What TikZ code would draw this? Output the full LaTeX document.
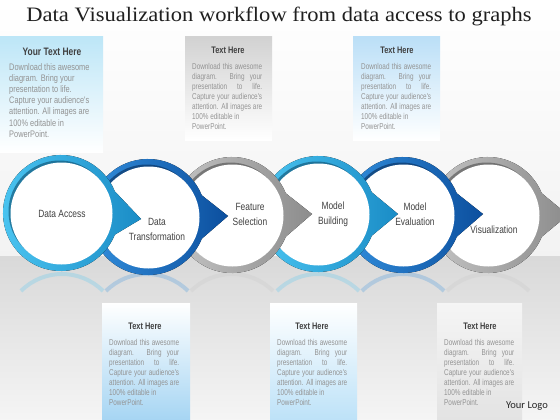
\documentclass[tikz,border=0pt]{standalone}
\usepackage{fontspec}
\setmainfont{Liberation Serif}
\newfontfamily\titlef[FakeStretch=1.1]{Liberation Serif}
\newfontfamily\condf[FakeStretch=0.78]{Liberation Sans}
\newfontfamily\condb[FakeStretch=0.75]{Liberation Sans}
\newfontfamily\lblf[FakeStretch=0.8]{Liberation Sans}
\newfontfamily\logof{Carlito}
\definecolor{ttl}{HTML}{404040}
\definecolor{bodygray}{HTML}{939393}
\definecolor{cyanA}{HTML}{4CC6F2}
\definecolor{cyanB}{HTML}{1A8CC6}
\definecolor{blueA}{HTML}{3390DE}
\definecolor{blueB}{HTML}{0C4F9E}
\definecolor{grayA}{HTML}{C6C6C6}
\definecolor{grayB}{HTML}{8C8C8C}
\definecolor{boxcyan}{HTML}{BDE6F7}
\definecolor{boxgray}{HTML}{D2D2D2}
\definecolor{boxblue}{HTML}{BBDFF7}
\definecolor{boxblueB}{HTML}{A6D5F3}
\definecolor{boxblueC}{HTML}{BDE2F8}
\begin{document}
\begin{tikzpicture}[x=1pt,y=-1pt,
  boxtitle/.style={font=\condf\bfseries\fontsize{9.5}{11}\selectfont, text=ttl, inner sep=0, anchor=base},
  bodytxt/.style={font=\condb\fontsize{8.5}{10}\selectfont, text=bodygray, inner sep=0, anchor=north west, align=left},
  lbl/.style={font=\lblf\fontsize{10.5}{15}\selectfont, text=ttl, align=center, inner sep=0}]
\useasboundingbox (0,0) rectangle (560,420);
% background
\fill[top color=white, bottom color=gray!10] (0,0) rectangle (560,256);
\fill[top color=gray!30, bottom color=gray!8] (0,256) rectangle (560,420);
% top boxes
\fill[top color=boxcyan, bottom color=white] (0,37) rectangle (103,152);
\fill[top color=boxgray, bottom color=white] (185,37) rectangle (272,140);
\fill[top color=boxblue, bottom color=white] (353,37) rectangle (440,140);
% bottom boxes
\fill[top color=white, bottom color=boxblueB] (102,303) rectangle (190,420);
\fill[top color=white, bottom color=boxblueC] (270,303) rectangle (357,420);
\fill[top color=gray!8, bottom color=gray!22] (437,303) rectangle (522,420);
% reflections
\foreach \cx/\ca in {488/grayA, 403/blueA, 318/cyanA, 232/grayA, 147/blueA, 62/cyanA}{
  \draw[\ca, opacity=.25, line width=4] (\cx,332) ++(225:58) arc[start angle=225,end angle=315,radius=58];
}
% rings
\foreach \cx/\cy/\ty/\ca/\cb in {488/215/215/grayA/grayB, 403/215/214/blueA/blueB, 318/214/214/cyanA/cyanB, 232/215/214/grayA/grayB, 148/217/216/blueA/blueB, 61/213/219/cyanA/cyanB}{
  \fill[left color=\ca, right color=\cb] (\cx,\cy) ++(22:58) arc[start angle=22,end angle=338,radius=58] -- ({\cx+80},\ty) -- cycle;
  \fill[\cb!55!black, opacity=.6] ({\cx-1.5},{\cy-1.5}) circle[radius=51];
  \fill[white] ({\cx+0.5},{\cy+0.5}) circle[radius=51];
}
% circle labels
\node[lbl] (l1) at (62,214) {Data Access};
\node[lbl] (l2) at (157,229) {Data\\Transformation};
\node[lbl] (l3) at (250,214.5) {Feature\\Selection};
\node[lbl] (l4) at (333,214.5) {Model\\Building};
\node[lbl] (l5) at (415,214.5) {Model\\Evaluation};
\node[lbl] (l6) at (494,230) {Visualization};
% title
\node[font=\titlef\fontsize{20.5}{24}\selectfont, text=black!88, inner sep=0] (title) at (279,16) {Data Visualization workflow from data access to graphs};
% box 1
\node[boxtitle, font=\condf\bfseries\fontsize{10.8}{12}\selectfont] (t1) at (52,55.5) {Your Text Here};
\node[bodytxt, font=\condf\fontsize{9.5}{11.2}\selectfont] (b1) at (9,63) {Download this awesome\\diagram. Bring your\\presentation to life.\\Capture your audience's\\attention. All images are\\100\% editable in\\PowerPoint.};
% small boxes
\newcommand\smallbody{\makebox[70pt][s]{Download this awesome}\\\makebox[70pt][s]{diagram. Bring your}\\\makebox[70pt][s]{presentation to life.}\\\makebox[70pt][s]{Capture your audience's}\\\makebox[70pt][s]{attention. All images are}\\100\% editable in\\PowerPoint.}
\node[boxtitle] (t2) at (228,53.4) {Text Here};
\node[bodytxt] (b2) at (192,63.5) {\smallbody};
\node[boxtitle] (t3) at (397,53.4) {Text Here};
\node[bodytxt] (b3) at (361,63.5) {\smallbody};
\node[boxtitle] (t4) at (145,329.4) {Text Here};
\node[bodytxt] (b4) at (109,339) {\smallbody};
\node[boxtitle] (t5) at (312,329.4) {Text Here};
\node[bodytxt] (b5) at (277,339) {\smallbody};
\node[boxtitle] (t6) at (480,329.4) {Text Here};
\node[bodytxt] (b6) at (444,339) {\smallbody};
% logo
\node[font=\logof\fontsize{10.5}{12}\selectfont, text=black!85, inner sep=0] (logo) at (527,406) {Your Logo};
\end{tikzpicture}
\end{document}
